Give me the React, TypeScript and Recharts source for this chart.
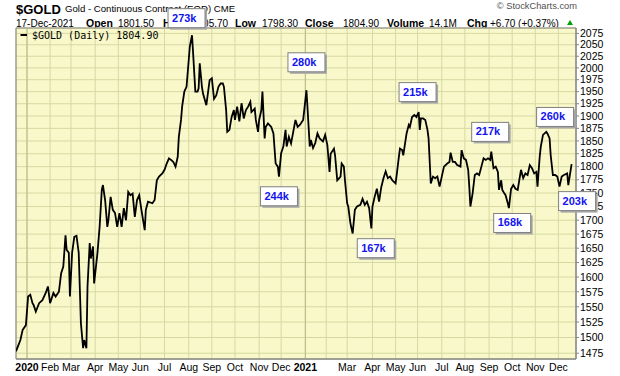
import React from 'react'
import {
  LineChart, Line, XAxis, YAxis, CartesianGrid,
  ReferenceLine, ReferenceDot, ReferenceArea,
} from 'recharts'

document.body.style.margin = '0'

// trading-day index counted from 17-Dec-2019, closing price
const days = [
  0, 4, 6, 9, 11, 13, 15, 16, 18, 21, 24, 27, 29, 31, 34, 36, 39, 41, 43, 45,
  46, 48, 49, 51, 53, 55, 57, 59, 61, 62, 64, 65, 67, 68, 70, 71, 74, 76, 78, 79,
  81, 83, 84, 86, 88, 90, 92, 94, 96, 98, 100, 102, 104, 106, 108, 110, 112, 114, 117, 118,
  120, 124, 126, 128, 130, 133, 135, 137, 139, 141, 143, 145, 147, 148, 150, 151, 153, 155, 157, 158,
  160, 161, 163, 165, 166, 167, 169, 170, 173, 174, 176, 178, 180, 182, 184, 186, 188, 189, 191, 192,
  194, 196, 198, 199, 201, 203, 205, 207, 209, 211, 213, 214, 217, 218, 220, 221, 223, 224, 226, 227,
  229, 232, 234, 236, 238, 239, 241, 243, 245, 246, 248, 250, 252, 254, 256, 258, 261, 262, 264, 265,
  267, 268, 270, 272, 274, 276, 279, 281, 283, 285, 286, 289, 290, 292, 295, 296, 298, 299, 301, 302,
  304, 306, 308, 310, 313, 315, 317, 319, 321, 323, 324, 326, 328, 330, 332, 334, 336, 338, 340, 342,
  345, 346, 348, 349, 351, 352, 355, 357, 358, 360, 362, 364, 366, 367, 368, 370, 372, 374, 375, 377,
  379, 381, 383, 385, 387, 389, 392, 394, 395, 397, 399, 401, 404, 405, 407, 409, 411, 412, 413, 415,
  417, 419, 421, 423, 425, 427, 429, 431, 432, 434, 436, 438, 439, 441, 442, 444, 445, 447, 448, 450,
  452, 454, 456, 459, 461, 463, 465, 467, 469, 471, 473, 474, 476, 477, 479, 482, 483, 485, 486, 488,
  490, 492, 494, 496, 498, 501, 502, 503, 505,
]
const prices = [
  1478, 1496, 1512, 1520, 1567, 1570, 1556, 1553, 1542, 1556, 1561, 1573, 1584, 1556, 1573, 1567, 1575, 1606, 1618, 1673,
  1647, 1642, 1567, 1642, 1670, 1672, 1642, 1523, 1483, 1496, 1483, 1584, 1659, 1632, 1653, 1589, 1641, 1688, 1756, 1765,
  1737, 1688, 1700, 1743, 1719, 1713, 1688, 1713, 1688, 1722, 1700, 1752, 1746, 1749, 1706, 1737, 1746, 1719, 1682, 1719,
  1734, 1731, 1737, 1774, 1781, 1787, 1794, 1806, 1816, 1813, 1809, 1800, 1819, 1858, 1892, 1919, 1950, 1960, 2017, 2046,
  2071, 2031, 1950, 1950, 1957, 2010, 1960, 1946, 1922, 1939, 1974, 1978, 1935, 1942, 1960, 1967, 1967, 1960, 1912, 1868,
  1872, 1898, 1912, 1892, 1919, 1889, 1926, 1895, 1912, 1919, 1929, 1908, 1915, 1892, 1868, 1892, 1912, 1950, 1855, 1878,
  1885, 1878, 1865, 1806, 1800, 1781, 1826, 1839, 1872, 1839, 1858, 1845, 1868, 1892, 1878, 1882, 1892, 1912, 1953, 1915,
  1839, 1852, 1836, 1846, 1865, 1855, 1849, 1862, 1842, 1790, 1825, 1835, 1822, 1774, 1781, 1806, 1800, 1774, 1731, 1725,
  1694, 1676, 1719, 1725, 1728, 1739, 1728, 1734, 1722, 1685, 1725, 1743, 1758, 1734, 1761, 1778, 1791, 1778, 1781, 1774,
  1768, 1784, 1819, 1835, 1832, 1822, 1865, 1882, 1878, 1898, 1902, 1898, 1908, 1872, 1895, 1895, 1892, 1872, 1855, 1768,
  1781, 1778, 1781, 1762, 1781, 1800, 1806, 1809, 1827, 1809, 1809, 1803, 1800, 1832, 1816, 1813, 1794, 1762, 1725, 1749,
  1784, 1787, 1784, 1800, 1816, 1813, 1816, 1813, 1829, 1797, 1800, 1790, 1756, 1774, 1756, 1749, 1746, 1731, 1722, 1758,
  1765, 1758, 1756, 1794, 1778, 1787, 1784, 1803, 1797, 1787, 1790, 1762, 1819, 1839, 1862, 1868, 1865, 1855, 1822, 1784,
  1784, 1781, 1762, 1781, 1784, 1787, 1765, 1778, 1805,
]

const monthTicks = [10, 31, 50, 72, 93, 113, 135, 157, 178, 199, 221, 241, 263, 282, 301, 324, 345, 365, 387, 408, 430, 451, 472, 493]
const monthLabels = ['2020', 'Feb', 'Mar', 'Apr', 'May', 'Jun', 'Jul', 'Aug', 'Sep', 'Oct', 'Nov', 'Dec',
  '2021', '', 'Mar', 'Apr', 'May', 'Jun', 'Jul', 'Aug', 'Sep', 'Oct', 'Nov', 'Dec']
const yearTicks = [10, 263]
const priceTicks = [1475, 1500, 1525, 1550, 1575, 1600, 1625, 1650, 1675, 1700, 1725, 1750, 1775,
  1800, 1825, 1850, 1875, 1900, 1925, 1950, 1975, 2000, 2025, 2050, 2075]

// volume notes
const noteDays = [155, 264, 239, 327, 365, 431, 451, 490, 510]
const notePrices = [2109, 2012, 1744, 1650, 1949, 1868, 1695, 1898, 1735]
const noteLabels = ['273k', '280k', '244k', '167k', '215k', '217k', '168k', '260k', '203k']

const data = days.map((d, i) => ({ day: d, close: prices[i] }))

const FONT = 'Arial, "Liberation Sans", sans-serif'
const X_DOMAIN: [number, number] = [0, 509]
const Y_DOMAIN: [number, number] = [1466, 2087]

function XTick(props: any) {
  const { x, y, payload } = props
  const idx = monthTicks.indexOf(payload.value)
  const label = monthLabels[idx] ?? ''
  const bold = label.startsWith('20')
  return (
    <text x={x} y={y} dy="0.71em" textAnchor="middle" fontSize={10.5}
      fontFamily={FONT} fontWeight={bold ? 'bold' : 'normal'} fill="#000">
      {label}
    </text>
  )
}

function noteBox(cx: number, cy: number, label: string) {
  const w = 37
  const h = 19
  const x = cx - w / 2
  const y = cy - h / 2
  return (
    <g>
      <rect x={x + 2} y={y + 2} width={w} height={h} fill="#a8a8a8" />
      <rect x={x} y={y} width={w} height={h} fill="#fff" stroke="#808080" strokeWidth={1} />
      <text x={x + 4} y={y + 13} fontSize={11} fontWeight="bold" fontFamily={FONT} fill="#1414f0">
        {label}
      </text>
    </g>
  )
}

export default function App() {
  return (
    <div style={{ position: 'relative', width: 620, height: 376, background: '#fff' }}>
      <svg width={620} height={376} style={{ position: 'absolute', left: 0, top: 0 }} fontFamily={FONT}>
        <text x={16} y={13.5} fontSize={13} fontWeight="bold">$GOLD</text>
        <text x={65} y={12} fontSize={9.6}>Gold - Continuous Contract (EOD) CME</text>
        <text x={577} y={8.5} fontSize={9.3} textAnchor="end" fill="#505050">© StockCharts.com</text>
        <g fontSize={10}>
          <text x={16} y={26.5}>17-Dec-2021</text>
          <text x={86} y={26.5} fontWeight="bold" fontSize={10.5}>Open</text>
          <text x={118} y={26.5}>1801.50</text>
          <text x={163} y={26.5} fontWeight="bold" fontSize={10.5}>High</text>
          <text x={192} y={26.5}>1805.70</text>
          <text x={235} y={26.5} fontWeight="bold" fontSize={10.5}>Low</text>
          <text x={262} y={26.5}>1798.30</text>
          <text x={305} y={26.5} fontWeight="bold" fontSize={10.5}>Close</text>
          <text x={343} y={26.5}>1804.90</text>
          <text x={387} y={26.5} fontWeight="bold" fontSize={10.5}>Volume</text>
          <text x={429} y={26.5}>14.1M</text>
          <text x={467} y={26.5} fontWeight="bold" fontSize={10.5}>Chg</text>
          <text x={490} y={26.5}>+6.70 (+0.37%)</text>
        </g>
        <polygon points="567,25 573,25 570,20" fill="#00a000" />
      </svg>
      <div style={{ position: 'absolute', left: 0, top: 0 }}>
        <LineChart width={620} height={376} data={data}
          margin={{ top: 28, right: 4, bottom: 3, left: 16 }}>
          <CartesianGrid fill="#f8f8ca" fillOpacity={1} stroke="#d6d9a3" />
          {yearTicks.map(t => (
            <ReferenceLine key={t} x={t} stroke="#b5ba85" strokeWidth={1} />
          ))}
          <XAxis type="number" dataKey="day" domain={X_DOMAIN} allowDataOverflow
            ticks={monthTicks} interval={0} tickSize={0} tickMargin={5} height={14}
            axisLine={{ stroke: '#888' }} tick={<XTick />} />
          <YAxis orientation="right" scale="log" domain={Y_DOMAIN} allowDataOverflow
            ticks={priceTicks} interval={0} tickSize={3} tickMargin={1} width={40}
            axisLine={{ stroke: '#888' }} tickLine={{ stroke: '#888' }}
            tick={{ fontSize: 10.5, fill: '#000', fontFamily: FONT }} />
          <ReferenceArea x1={0} x2={509} y1={1466} y2={2087} fill="none" stroke="#808080" />
          <Line type="linear" dataKey="close" stroke="#000" strokeWidth={1.8}
            dot={false} isAnimationActive={false} />
        </LineChart>
      </div>
      <svg width={200} height={20} style={{ position: 'absolute', left: 0, top: 26 }}>
        <line x1={20.5} x2={27} y1={9} y2={9} stroke="#000" strokeWidth={2} />
        <text x={32} y={12.5} fontSize={10} fontFamily='"DejaVu Sans Mono", monospace' fill="#000">
          $GOLD (Daily) 1804.90
        </text>
      </svg>
      {/* overlay with the same scales, so the volume notes sit above axis labels and header */}
      <div style={{ position: 'absolute', left: 0, top: 0 }}>
        <LineChart width={620} height={376} data={data}
          margin={{ top: 28, right: 44, bottom: 17, left: 16 }}>
          <XAxis hide type="number" dataKey="day" domain={X_DOMAIN} allowDataOverflow />
          <YAxis hide scale="log" domain={Y_DOMAIN} allowDataOverflow />
          {noteDays.map((d, i) => (
            <ReferenceDot key={noteLabels[i]} x={d} y={notePrices[i]} r={0} ifOverflow="visible"
              shape={(p: any) => noteBox(p.cx, p.cy, noteLabels[i])} />
          ))}
        </LineChart>
      </div>
    </div>
  )
}
